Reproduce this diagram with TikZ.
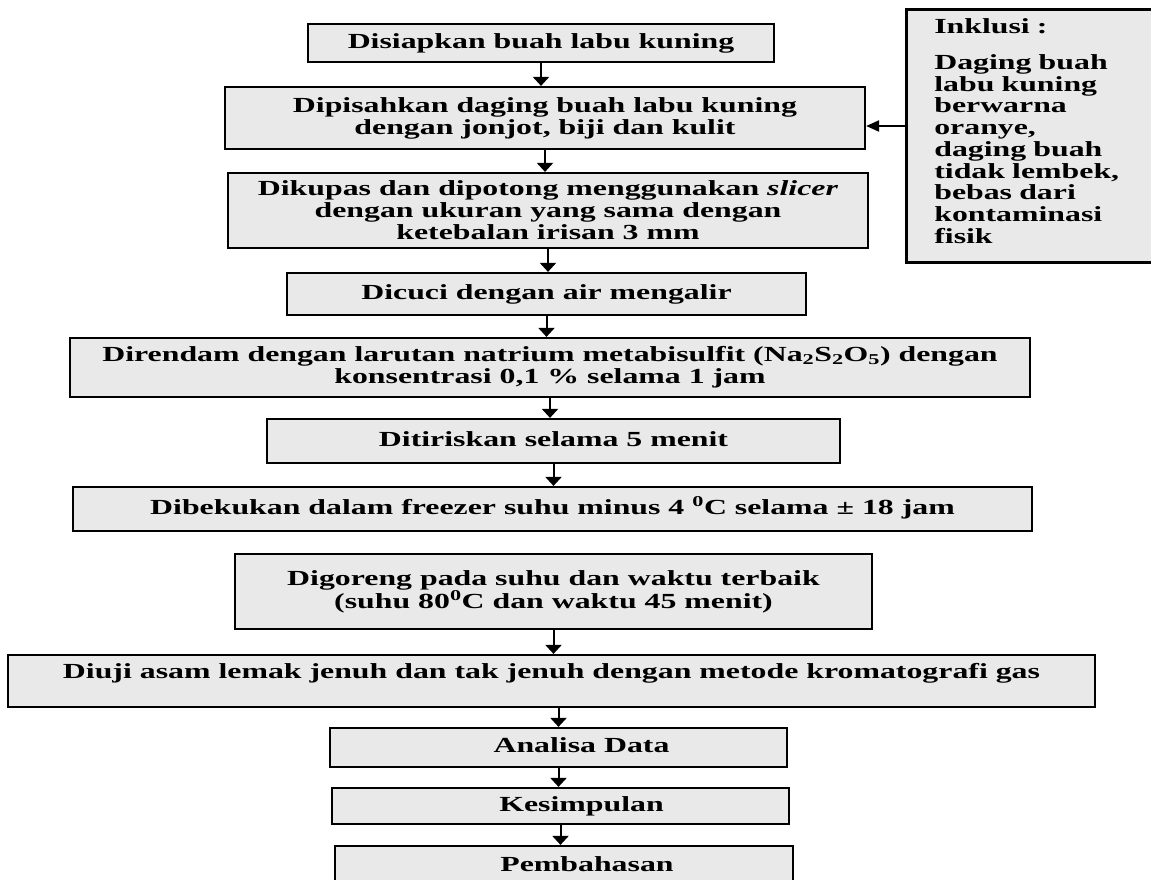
\documentclass[tikz,border=0pt]{standalone}
\usepackage{fontspec}
\setmainfont{Liberation Serif}[FakeStretch=1.48]
\usetikzlibrary{arrows.meta}
\definecolor{boxgray}{RGB}{233,233,233}
\tikzset{
  box/.style={draw=black, line width=2.2pt, fill=boxgray, align=center, inner sep=0pt,
    font=\bfseries\fontsize{21.5}{22}\selectfont},
  oneline/.style={text height=15pt, text depth=5pt},
  arr/.style={line width=2pt, -{Triangle[width=16pt,length=9pt]}},
  arrh/.style={line width=2pt, -{Triangle[width=11pt,length=13pt]}}
}
\begin{document}
\begin{tikzpicture}[x=1pt,y=-1pt]
\useasboundingbox (0,0) rectangle (1151,879);
\clip (0,0) rectangle (1151,879);
\fill[white] (0,0) rectangle (1151,879);

\node[box,oneline,minimum width=466pt,minimum height=38pt] (b1) at (541,43) {Disiapkan buah labu kuning};
\node[box,minimum width=640pt,minimum height=62pt] (b2) at (545,118) {Dipisahkan daging buah labu kuning\\dengan jonjot, biji dan kulit};
\node[box,minimum width=640pt,minimum height=75pt] (b3) at (548,210.5) {Dikupas dan dipotong menggunakan \textit{slicer}\\dengan ukuran yang sama dengan\\ketebalan irisan 3 mm};
\node[box,oneline,minimum width=519pt,minimum height=42pt] (b4) at (546.5,294) {Dicuci dengan air mengalir};
\node[box,minimum width=960pt,minimum height=59pt] (b5) at (550,367.5) {Direndam dengan larutan natrium metabisulfit (Na\textsubscript{2}S\textsubscript{2}O\textsubscript{5}) dengan\\konsentrasi 0,1 \% selama 1 jam};
\node[box,oneline,minimum width=573pt,minimum height=44pt] (b6) at (553.5,441) {Ditiriskan selama 5 menit};
\node[box,oneline,minimum width=959pt,minimum height=44pt] (b7) at (552.5,509) {Dibekukan dalam freezer suhu minus 4 \textsuperscript{0}C selama ± 18 jam};
\node[box,minimum width=637pt,minimum height=75pt] (b8) at (553.5,591.5) {Digoreng pada suhu dan waktu terbaik\\(suhu 80\textsuperscript{0}C dan waktu 45 menit)};
\node[box,text height=15pt,text depth=21pt,minimum width=1087pt,minimum height=52pt] (b9) at (551.5,681) {Diuji asam lemak jenuh dan tak jenuh dengan metode kromatografi gas};
\node[box,oneline,minimum width=457pt,minimum height=39pt] (b10) at (558.5,747.5) {\hspace*{46pt}Analisa Data};
\node[box,oneline,minimum width=457pt,minimum height=36pt] (b11) at (560.5,806) {\hspace*{42pt}Kesimpulan};
\node[box,text height=15pt,text depth=21pt,minimum width=458pt,minimum height=56pt] (b12) at (564,874) {\hspace*{46pt}Pembahasan};

\node[box,line width=2.6pt,anchor=north west,align=left,inner xsep=28pt,inner ysep=9pt,
  text width=199pt,text height=15pt,text depth=220pt,font=\bfseries\fontsize{21.5}{21.75}\selectfont] (inkl) at (905,8)
  {Inklusi :\\[14.25pt]Daging buah\\labu kuning\\berwarna\\oranye,\\daging buah\\tidak lembek,\\bebas dari\\kontaminasi\\fisik};

\draw[arr] (b1.south) -- (b1.south |- b2.north);
\draw[arr] (b2.south) -- (b2.south |- b3.north);
\draw[arr] (b3.south) -- (b3.south |- b4.north);
\draw[arr] (b4.south) -- (b4.south |- b5.north);
\draw[arr] (b5.south) -- (b5.south |- b6.north);
\draw[arr] (b6.south) -- (b6.south |- b7.north);
\draw[arr] (b8.south) -- (b8.south |- b9.north);
\draw[arr] (b10.north |- b9.south) -- (b10.north);
\draw[arr] (b10.south) -- (b10.south |- b11.north);
\draw[arr] (b11.south) -- (b11.south |- b12.north);
\draw[arrh] ([yshift=-8pt]inkl.west |- b2.east) -- ([yshift=-8pt]b2.east);
\end{tikzpicture}
\end{document}
